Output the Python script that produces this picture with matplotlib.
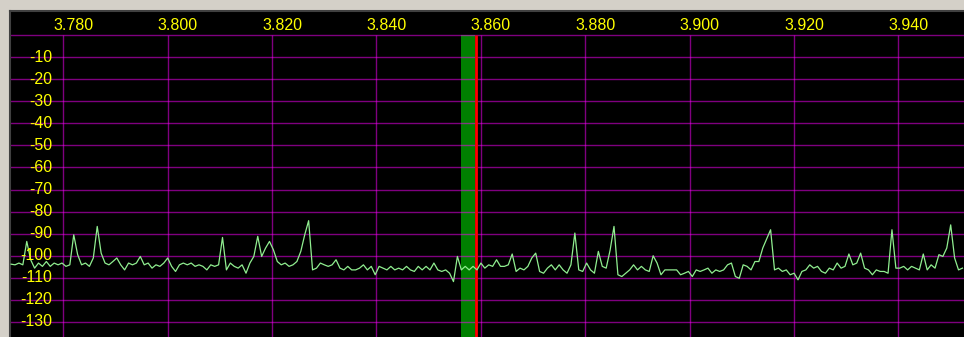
"""Panadapter snapshot: 80 m band spectrum with filter passband and VFO marker."""
import numpy as np
import matplotlib
matplotlib.use("Agg")
import matplotlib.pyplot as plt

# frequency bins (MHz) of the spectrum trace
F_START = 3.7700
F_STEP = 0.00075

FREQ_TICKS = [3.780, 3.800, 3.820, 3.840, 3.860, 3.880, 3.900, 3.920, 3.940]
FREQ_LABELS = ["3.780", "3.800", "3.820", "3.840", "3.860", "3.880", "3.900", "3.920", "3.940"]
DB_TICKS = [-10, -20, -30, -40, -50, -60, -70, -80, -90, -100, -110, -120, -130]
DB_LABELS = [str(v) for v in DB_TICKS]

FILTER_LO = 3.8562
FILTER_HI = 3.8589
VFO = 3.8591

# signal level per bin (dBm)
LEVELS = [
    -103.8, -104.1, -103.3, -104.1, -93.5, -101.8, -105.6, -103.3, -104.8, -102.6,
    -104.8, -103.3, -104.1, -103.3, -104.8, -104.1, -90.5, -99.5, -104.1, -103.3,
    -104.8, -101.0, -86.7, -98.8, -103.3, -104.1, -102.6, -101.0, -104.1, -106.4,
    -103.3, -104.1, -103.3, -100.3, -104.1, -103.3, -105.6, -104.1, -104.8, -103.3,
    -101.0, -104.8, -107.1, -104.1, -103.3, -104.1, -103.3, -104.8, -104.1, -104.8,
    -106.4, -104.1, -104.8, -104.1, -91.7, -106.4, -103.3, -104.8, -105.6, -104.1,
    -107.9, -103.3, -100.3, -91.2, -100.3, -96.5, -93.5, -97.3, -102.6, -104.1,
    -103.3, -104.8, -104.1, -102.6, -98.0, -90.5, -84.1, -106.4, -105.6, -103.3,
    -104.1, -104.8, -104.1, -101.8, -105.6, -106.4, -104.8, -106.4, -106.4, -105.6,
    -104.1, -106.4, -104.8, -108.6, -104.8, -105.6, -106.4, -104.8, -106.4, -105.6,
    -106.4, -104.8, -106.4, -107.1, -104.8, -106.4, -104.8, -106.4, -103.3, -106.4,
    -107.1, -106.4, -107.9, -111.7, -100.3, -106.4, -104.8, -106.4, -104.8, -106.4,
    -103.3, -105.6, -104.1, -104.8, -101.8, -104.8, -104.8, -104.1, -99.2, -107.1,
    -105.6, -106.4, -104.8, -101.0, -98.8, -107.1, -107.9, -105.6, -104.1, -106.4,
    -104.1, -106.4, -107.9, -104.1, -89.7, -106.4, -107.1, -103.3, -106.4, -107.9,
    -98.0, -104.8, -105.6, -97.5, -86.7, -108.6, -109.4, -107.9, -106.4, -104.1,
    -106.4, -104.8, -106.4, -107.1, -100.0, -103.3, -108.6, -106.4, -106.4, -106.4,
    -106.4, -108.6, -107.9, -107.1, -109.4, -106.4, -107.1, -106.4, -105.6, -107.9,
    -106.4, -107.1, -106.4, -104.1, -103.3, -109.4, -110.2, -104.1, -104.8, -106.4,
    -102.6, -102.6, -96.5, -92.3, -88.2, -106.4, -105.6, -107.1, -106.4, -108.6,
    -107.9, -110.9, -107.1, -106.4, -104.1, -105.6, -104.8, -107.1, -107.9, -105.6,
    -106.4, -103.3, -105.6, -104.8, -99.2, -104.1, -103.3, -98.8, -105.6, -106.4,
    -108.6, -106.4, -107.1, -107.1, -107.9, -88.2, -105.6, -105.6, -104.8, -106.4,
    -104.8, -105.6, -106.4, -99.2, -106.4, -104.1, -105.6, -99.5, -100.3, -96.5,
    -86.0, -101.0, -106.4, -105.6,
]

GRID = "#ff00ff"
LABEL = "#ffff00"
TRACE = "#90ee90"

freqs = F_START + F_STEP * np.arange(len(LEVELS))

fig = plt.figure(figsize=(9.64, 3.37), dpi=100, facecolor="#d4d0c8")
ax = fig.add_axes([10 / 964, 0, 954 / 964, 326 / 337])
ax.set_facecolor("black")
ax.set_xlim(3.76979, 3.95255)
ax.set_ylim(-136.8, 10.9)
ax.set_xticks([])
ax.set_yticks([])
for side in ("right", "bottom"):
    ax.spines[side].set_visible(False)
for side in ("top", "left"):
    ax.spines[side].set_color("#404040")
    ax.spines[side].set_linewidth(1.5)

# filter passband and VFO
ax.axvspan(FILTER_LO, FILTER_HI, ymin=0, ymax=(0 + 136.8) / (10.9 + 136.8),
           color="#008000", lw=0, zorder=1)
ax.vlines(VFO, -136.8, 0, color="#ff0000", lw=2.0, zorder=3)

# grid
for db in [0] + DB_TICKS:
    ax.axhline(db, color=GRID, alpha=0.5, lw=1.0, zorder=2)
ax.vlines(FREQ_TICKS, -136.8, 0, color=GRID, alpha=0.5, lw=1.0, zorder=2)

ax.plot(freqs, LEVELS, color=TRACE, lw=0.9, zorder=4)

for f, lab in zip(FREQ_TICKS, FREQ_LABELS):
    ax.text(f + 0.0019, 4.3, lab, color=LABEL, fontsize=11.5,
            family="Liberation Sans", ha="center", va="center", zorder=5)
for db, lab in zip(DB_TICKS, DB_LABELS):
    ax.text(0.0445, db, lab, transform=ax.get_yaxis_transform(), color=LABEL,
            fontsize=11.5, family="Liberation Sans", ha="right", va="center", zorder=5)

fig.savefig("out.png", dpi=100, facecolor=fig.get_facecolor())
